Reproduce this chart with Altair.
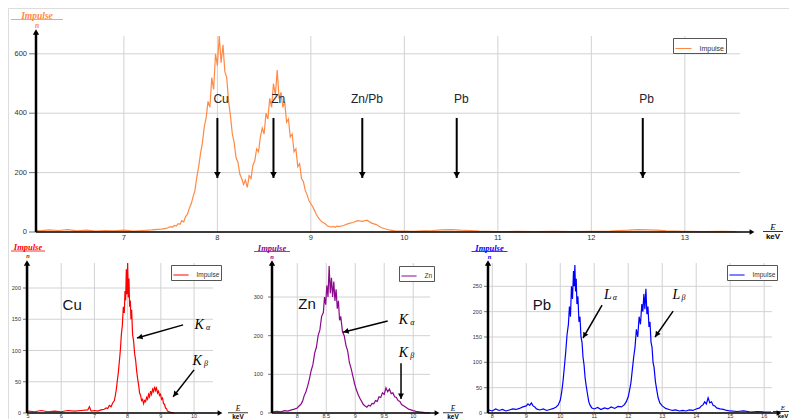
import math
import altair as alt
import pandas as pd

# ---------------- data ----------------
top_e = [6.06, 6.1, 6.2, 6.3, 6.4, 6.5, 6.6, 6.7, 6.8, 6.9, 7.0, 7.1, 7.2, 7.3, 7.4, 7.45, 7.5,
         7.52, 7.54, 7.56, 7.58, 7.60, 7.62, 7.64, 7.66, 7.68, 7.70,
         7.72, 7.74, 7.76, 7.78, 7.80, 7.82, 7.84, 7.86, 7.88, 7.90,
         7.92, 7.94, 7.96, 7.98, 8.00, 8.02, 8.04, 8.06, 8.08, 8.10,
         8.12, 8.14, 8.16, 8.18, 8.20, 8.22, 8.24, 8.26, 8.28, 8.30,
         8.32, 8.34, 8.36, 8.38, 8.40, 8.42, 8.44, 8.46, 8.48, 8.50,
         8.52, 8.54, 8.56, 8.58, 8.60, 8.62, 8.64, 8.66, 8.68, 8.70,
         8.72, 8.74, 8.76, 8.78, 8.80, 8.82, 8.84, 8.86, 8.88, 8.90,
         8.92, 8.94, 8.96, 8.98, 9.00, 9.02, 9.04, 9.06, 9.08, 9.10,
         9.12, 9.14, 9.16, 9.18, 9.20, 9.22, 9.24, 9.26, 9.28, 9.30,
         9.35, 9.40, 9.45, 9.50, 9.55, 9.60, 9.65, 9.70, 9.75, 9.80, 9.85, 9.90,
         10.0, 10.1, 10.2, 10.3, 10.4, 10.5, 10.6, 10.7, 10.8, 10.9, 11.0,
         11.2, 11.4, 11.6, 11.8, 12.0, 12.2, 12.3, 12.4, 12.5, 12.6, 12.7, 12.8, 12.9,
         13.0, 13.2, 13.4, 13.55]
top_n = [6, 4, 7, 5, 8, 4, 6, 3, 5, 4, 6, 3, 5, 7, 10, 12, 18,
         16, 22, 20, 28, 26, 38, 34, 52, 60, 80,
         95, 118, 140, 185, 220, 265, 300, 355, 385, 440,
         420, 520, 480, 600, 560, 660, 570, 630, 540, 520,
         440, 390, 330, 300, 250, 235, 195, 180, 160, 175,
         150, 190, 180, 225, 240, 280, 270, 320, 350, 330,
         400, 380, 450, 420, 500, 460, 545, 450, 470, 420,
         440, 370, 380, 320, 330, 270, 280, 220, 230, 180,
         170, 140, 125, 105, 95, 85, 72, 58, 48, 40,
         34, 30, 26, 20, 18, 17, 19, 16, 20, 18,
         22, 28, 32, 38, 36, 40, 30, 25, 15, 10, 6, 4,
         3, 2, 4, 5, 7, 8, 6, 5, 3, 2, 1,
         2, 1, 2, 1, 2, 3, 5, 6, 8, 7, 6, 4, 3,
         2, 1, 2, 1]

cu_e = [5.0, 5.2, 5.4, 5.6, 5.8, 6.0, 6.2, 6.4, 6.6, 6.8, 6.85, 6.9, 7.0, 7.1, 7.2, 7.3, 7.35,
        7.40, 7.45, 7.50, 7.55, 7.60, 7.63, 7.66, 7.69, 7.72, 7.75, 7.78, 7.81, 7.84, 7.87,
        7.90, 7.92, 7.94, 7.96, 7.98, 8.00, 8.02, 8.04, 8.06, 8.08, 8.10, 8.12, 8.15, 8.18,
        8.21, 8.24, 8.27, 8.30, 8.33, 8.36, 8.39, 8.42, 8.45, 8.48, 8.51, 8.54, 8.57, 8.60,
        8.63, 8.66, 8.69, 8.72, 8.75, 8.78, 8.81, 8.84, 8.87, 8.90, 8.93, 8.96, 8.99, 9.02,
        9.05, 9.08, 9.11, 9.14, 9.17, 9.20, 9.25, 9.30, 9.40]
cu_n = [3, 2, 4, 2, 3, 2, 4, 3, 4, 5, 10, 3, 4, 3, 5, 6, 8,
        7, 12, 10, 16, 20, 28, 38, 52, 65, 82, 100, 125, 140, 170,
        160, 195, 180, 230, 190, 240, 185, 215, 170, 180, 150, 165, 125, 115,
        95, 85, 68, 55, 45, 32, 28, 20, 22, 15, 20, 18, 25, 22,
        30, 26, 35, 30, 38, 34, 42, 36, 40, 32, 35, 28, 30, 22,
        24, 15, 14, 8, 7, 3, 2, 1, 0]

zn_e = [7.58, 7.65, 7.72, 7.78, 7.84, 7.90, 7.95, 8.00, 8.03, 8.06, 8.09, 8.12, 8.15, 8.18,
        8.21, 8.24, 8.27, 8.30, 8.33, 8.36, 8.39, 8.42, 8.45, 8.47, 8.49, 8.51, 8.53, 8.55,
        8.57, 8.59, 8.61, 8.63, 8.65, 8.67, 8.69, 8.71, 8.73, 8.75, 8.78, 8.81, 8.84, 8.87,
        8.90, 8.93, 8.96, 8.99, 9.02, 9.05, 9.08, 9.11, 9.14, 9.17, 9.20, 9.23, 9.26, 9.29,
        9.32, 9.35, 9.38, 9.41, 9.44, 9.47, 9.50, 9.53, 9.56, 9.59, 9.62, 9.65, 9.68, 9.71,
        9.74, 9.77, 9.80, 9.84, 9.88, 9.92, 9.96, 10.0, 10.05, 10.1, 10.2, 10.29]
zn_n = [3, 4, 3, 6, 5, 8, 10, 13, 18, 22, 30, 45, 55, 70,
        88, 110, 125, 155, 170, 200, 215, 250, 260, 300, 280, 330, 300, 380,
        310, 350, 300, 340, 290, 320, 270, 290, 240, 250, 210, 200, 175, 160,
        130, 115, 95, 75, 60, 48, 38, 30, 22, 18, 15, 20, 18, 25,
        24, 32, 30, 42, 40, 52, 48, 65, 55, 62, 50, 52, 42, 40,
        32, 30, 22, 18, 14, 10, 8, 6, 4, 3, 1, 0]

pb_e = [7.9, 8.0, 8.1, 8.2, 8.3, 8.4, 8.5, 8.6, 8.7, 8.8, 8.9, 9.0, 9.05, 9.1, 9.15, 9.2,
        9.25, 9.3, 9.4, 9.5, 9.6, 9.7, 9.8, 9.88, 9.94, 10.0, 10.04, 10.08, 10.12, 10.16,
        10.20, 10.24, 10.27, 10.30, 10.33, 10.36, 10.39, 10.41, 10.43, 10.45, 10.47, 10.49,
        10.52, 10.55, 10.58, 10.61, 10.64, 10.67, 10.70, 10.73, 10.76, 10.80, 10.84, 10.88,
        10.93, 11.0, 11.1, 11.2, 11.3, 11.4, 11.5, 11.6, 11.7, 11.8, 11.88, 11.94, 12.0,
        12.04, 12.08, 12.12, 12.16, 12.20, 12.24, 12.28, 12.32, 12.36, 12.40, 12.43, 12.46,
        12.49, 12.52, 12.55, 12.58, 12.61, 12.64, 12.67, 12.70, 12.73, 12.76, 12.80, 12.84,
        12.88, 12.93, 13.0, 13.1, 13.2, 13.3, 13.4, 13.5, 13.6, 13.7, 13.8, 13.9, 14.0,
        14.1, 14.15, 14.2, 14.25, 14.3, 14.35, 14.4, 14.45, 14.5, 14.55, 14.6, 14.7, 14.8,
        14.9, 15.0, 15.2, 15.4, 15.6, 15.8, 16.0, 16.2]
pb_n = [6, 4, 8, 5, 7, 4, 6, 8, 7, 9, 12, 14, 18, 15, 20, 14,
        12, 8, 6, 8, 5, 7, 9, 12, 16, 25, 40, 62, 90, 120,
        155, 175, 210, 190, 250, 225, 280, 250, 292, 240, 265, 215,
        230, 180, 190, 150, 140, 110, 95, 70, 55, 38, 22, 15,
        10, 8, 11, 7, 10, 8, 12, 9, 13, 12, 16, 22, 32,
        45, 60, 85, 110, 130, 165, 150, 190, 175, 215, 200, 235,
        205, 245, 195, 210, 170, 180, 140, 130, 100, 90, 62, 45,
        30, 20, 14, 9, 7, 5, 6, 4, 5, 4, 6, 5, 8,
        10, 14, 16, 22, 18, 30, 20, 22, 15, 14, 10, 8, 7,
        5, 4, 3, 4, 2, 3, 2, 2]

# axis ticks and their labels
top_xticks = [7, 8, 9, 10, 11, 12, 13]
top_xlabels = ["7", "8", "9", "10", "11", "12", "13"]
top_yticks = [0, 200, 400, 600]
top_ylabels = ["0", "200", "400", "600"]
cu_xticks = [5, 6, 7, 8, 9, 10]
cu_xlabels = ["5", "6", "7", "8", "9", "10"]
cu_yticks = [0, 50, 100, 150, 200]
cu_ylabels = ["0", "50", "100", "150", "200"]
zn_xticks = [8, 8.5, 9, 9.5, 10]
zn_xlabels = ["8", "8.5", "9", "9.5", "10"]
zn_yticks = [0, 100, 200, 300]
zn_ylabels = ["0", "100", "200", "300"]
pb_xticks = [8, 9, 10, 11, 12, 13, 14, 15, 16]
pb_xlabels = ["8", "9", "10", "11", "12", "13", "14", "15", "16"]
pb_yticks = [0, 50, 100, 150, 200, 250]
pb_ylabels = ["0", "50", "100", "150", "200", "250"]

# top annotations
top_labels = ["Cu", "Zn", "Zn/Pb", "Pb", "Pb"]
top_label_e = [8.04, 8.65, 9.60, 10.61, 12.59]
top_label_n = [448, 448, 448, 448, 448]
top_arrow_e = [8.0, 8.6, 9.55, 10.56, 12.55]
top_arrow_from = [384, 384, 384, 384, 384]
top_arrow_to = [182, 182, 182, 182, 182]

# bottom annotations
cu_name = ("Cu", 6.33, 173)
cu_lines = [("K", "α", 10.15, 141), ("K", "β", 10.09, 84)]
cu_arrows = [(9.67, 141, 8.28, 120), (10.0, 69, 9.37, 26)]
zn_name = ("Zn", 8.17, 282)
zn_lines = [("K", "α", 9.83, 240), ("K", "β", 9.83, 155)]
zn_arrows = [(9.56, 238, 8.79, 209), (9.79, 129, 9.79, 36)]
pb_name = ("Pb", 9.46, 213)
pb_lines = [("L", "α", 11.40, 233), ("L", "β", 13.42, 233)]
pb_arrows = [(11.23, 213, 10.67, 148), (13.32, 201, 12.79, 150)]

# ---------------- styling ----------------
SANS = "Liberation Sans"
SERIF = "Liberation Serif"
GRID = "#d2d2d2"
W, H = 781, 411


def build_panel(p):
    xdom, ydom, xr, yr = p["xdom"], p["ydom"], p["xr"], p["yr"]
    xs = alt.Scale(domain=xdom, range=xr, nice=False, zero=False)
    ys = alt.Scale(domain=ydom, range=yr, nice=False, zero=False)

    def X(f):
        return alt.X(f + ":Q", scale=xs, axis=None)

    def Y(f):
        return alt.Y(f + ":Q", scale=ys, axis=None)

    anchor = pd.DataFrame({"x0": [xdom[0]], "x1": [xdom[1]], "y0": [ydom[0]], "y1": [ydom[1]]})
    L = []
    # grid
    L.append(alt.Chart(pd.DataFrame({"t": p["xticks"], "lo": ydom[0], "hi": ydom[1]}))
             .mark_rule(color=GRID, strokeWidth=1).encode(x=X("t"), y=Y("lo"), y2="hi:Q"))
    L.append(alt.Chart(pd.DataFrame({"t": p["yticks"], "lo": xdom[0], "hi": xdom[1]}))
             .mark_rule(color=GRID, strokeWidth=1).encode(y=Y("t"), x=X("lo"), x2="hi:Q"))
    # tick labels
    L.append(alt.Chart(pd.DataFrame({"t": p["xticks"], "lab": p["xlabels"], "b": ydom[0]}))
             .mark_text(font=SANS, fontSize=p["fs"], color="#333", baseline="middle",
                        dy=p["xlab_dy"]).encode(x=X("t"), y=Y("b"), text="lab:N"))
    L.append(alt.Chart(pd.DataFrame({"t": p["yticks"], "lab": p["ylabels"], "b": xdom[0]}))
             .mark_text(font=SANS, fontSize=p["fs"], color="#333", baseline="middle", align="right",
                        dx=p["ylab_dx"]).encode(x=X("b"), y=Y("t"), text="lab:N"))
    L.append(alt.Chart(pd.DataFrame({"t": p["yticks"], "b": xdom[0]}))
             .mark_rule(color="#777", strokeWidth=1, xOffset=-p["tick"])
             .encode(x=X("b"), x2="b:Q", y=Y("t")))
    # spectrum line with legend
    df = pd.DataFrame({"E": p["e"], "n": p["n"], "s": [p["legend"]] * len(p["e"])})
    L.append(alt.Chart(df).mark_line(strokeWidth=1.2).encode(
        x=X("E"), y=Y("n"),
        color=alt.Color("s:N", scale=alt.Scale(range=[p["color"]]),
                        legend=alt.Legend(orient="none", legendX=p["leg"][0], legendY=p["leg"][1],
                                          title=None, symbolType="stroke", symbolSize=p["legsym"],
                                          symbolStrokeWidth=1, labelFontSize=p["legfs"],
                                          labelFont=SANS, labelColor="#333", strokeColor="#555",
                                          fillColor="white", padding=1.5, labelOffset=7,
                                          cornerRadius=0))))
    # axes with arrows
    L.append(alt.Chart(anchor).mark_rule(color="black", strokeWidth=2.5, y2Offset=-(p["yext"] - 3))
             .encode(x=X("x0"), y=Y("y0"), y2="y1:Q"))
    L.append(alt.Chart(anchor).mark_point(shape="triangle-up", filled=True, size=40, color="black",
                                          opacity=1, yOffset=-(p["yext"] - 3))
             .encode(x=X("x0"), y=Y("y1")))
    L.append(alt.Chart(anchor).mark_rule(color="black", strokeWidth=1.5, x2Offset=p["xext"] - 3)
             .encode(x=X("x0"), x2="x1:Q", y=Y("y0")))
    L.append(alt.Chart(anchor).mark_point(shape="triangle-right", filled=True, size=30, color="black",
                                          opacity=1, xOffset=p["xext"] - 3)
             .encode(x=X("x1"), y=Y("y0")))
    # y title  Impulse / n
    tdx, tdy, tfs, thw, ndy = p["title"]
    c = p["color"]
    L.append(alt.Chart(anchor).mark_text(text="Impulse", font=SERIF, fontStyle="italic",
                                         fontWeight="bold", fontSize=tfs, color=c, baseline="middle",
                                         dx=tdx, dy=tdy).encode(x=X("x0"), y=Y("y1")))
    L.append(alt.Chart(anchor).mark_rule(color=c, strokeWidth=0.8, xOffset=tdx - thw,
                                         x2Offset=tdx + thw, yOffset=tdy + 4)
             .encode(x=X("x0"), x2="x0:Q", y=Y("y1")))
    L.append(alt.Chart(anchor).mark_text(text="n", font=SERIF, fontStyle="italic", fontWeight="bold",
                                         fontSize=tfs - 2, color=c, baseline="middle",
                                         dx=tdx, dy=ndy).encode(x=X("x0"), y=Y("y1")))
    # x title  E / keV
    edx, edy, efs = p["ekev"]
    L.append(alt.Chart(anchor).mark_text(text="E", font=SERIF, fontStyle="italic", fontSize=efs + 1,
                                         color="black", baseline="middle", dx=edx, dy=edy)
             .encode(x=X("x1"), y=Y("y0")))
    L.append(alt.Chart(anchor).mark_rule(color="black", strokeWidth=0.8, xOffset=edx - 10,
                                         x2Offset=edx + 10, yOffset=edy + efs / 2 + 0.5)
             .encode(x=X("x1"), x2="x1:Q", y=Y("y0")))
    L.append(alt.Chart(anchor).mark_text(text="keV", font=SANS, fontWeight="bold", fontSize=efs,
                                         color="black", baseline="middle", dx=edx,
                                         dy=edy + efs + 1.5)
             .encode(x=X("x1"), y=Y("y0")))
    # arrows
    sx = (xr[1] - xr[0]) / (xdom[1] - xdom[0])
    sy = (yr[0] - yr[1]) / (ydom[1] - ydom[0])
    rows = []
    for (x1, y1, x2, y2) in p["arrows"]:
        dxp = (x2 - x1) * sx
        dyp = -(y2 - y1) * sy
        ln = math.hypot(dxp, dyp)
        ux, uy = dxp / ln, dyp / ln
        ang = math.degrees(math.atan2(ux, -uy)) % 360
        back = 3.0
        rows.append({"x1": x1, "y1": y1, "x2": x2, "y2": y2,
                     "hx": x2 - ux * back / sx, "hy": y2 + uy * back / sy, "ang": ang})
    adf = pd.DataFrame(rows)
    L.append(alt.Chart(adf).mark_rule(color="black", strokeWidth=p["aw"])
             .encode(x=X("x1"), y=Y("y1"), x2="x2:Q", y2="y2:Q"))
    L.append(alt.Chart(adf).mark_point(shape="triangle-up", filled=True, size=p["ah"], color="black",
                                       opacity=1)
             .encode(x=X("hx"), y=Y("hy"), angle=alt.Angle("ang:Q", scale=None)))
    return L, X, Y


# ---- top panel ----
top_p = dict(e=top_e, n=top_n, color="#ff8a45", legend="Impulse",
             xdom=[6.06, 13.59], ydom=[0, 660], xr=[28, 732], yr=[224, 28],
             xticks=top_xticks, xlabels=top_xlabels, yticks=top_yticks, ylabels=top_ylabels,
             fs=7.5, xlab_dy=6, ylab_dx=-9, tick=7, leg=(665, 30), legsym=260, legfs=7,
             yext=7, xext=15, title=(1, -20.5, 9.5, 26, -10.5), ekev=(33, -5, 8),
             arrows=[(a, f, a, t) for a, f, t in zip(top_arrow_e, top_arrow_from, top_arrow_to)],
             aw=2, ah=45)
top_layers, TX, TY = build_panel(top_p)
top_layers.append(alt.Chart(pd.DataFrame({"t": top_labels, "x": top_label_e, "y": top_label_n}))
                  .mark_text(font=SANS, fontSize=12, color="#22222e", baseline="middle")
                  .encode(x=TX("x"), y=TY("y"), text="t:N"))


def bottom(e, n, color, legend, xdom, ydom, xr, xticks, xlabels, yticks, ylabels, leg, title, ekev,
           ylab_dx, name, lines, arrows, subdx):
    p = dict(e=e, n=n, color=color, legend=legend, xdom=xdom, ydom=ydom, xr=xr, yr=[405, 255],
             xticks=xticks, xlabels=xlabels, yticks=yticks, ylabels=ylabels, fs=5.5, xlab_dy=2.5,
             ylab_dx=ylab_dx, tick=4, leg=leg, legsym=230, legfs=6.5, yext=3, xext=10,
             title=title, ekev=ekev, arrows=arrows, aw=1.5, ah=35)
    L, X, Y = build_panel(p)
    L.append(alt.Chart(pd.DataFrame({"t": [name[0]], "x": [name[1]], "y": [name[2]]}))
             .mark_text(font=SANS, fontSize=15, color="#111122", baseline="middle")
             .encode(x=X("x"), y=Y("y"), text="t:N"))
    ldf = pd.DataFrame({"t": [l[0] for l in lines], "s": [l[1] for l in lines],
                        "x": [l[2] for l in lines], "y": [l[3] for l in lines]})
    L.append(alt.Chart(ldf).mark_text(font=SERIF, fontStyle="italic", fontSize=14, color="black",
                                      baseline="middle")
             .encode(x=X("x"), y=Y("y"), text="t:N"))
    L.append(alt.Chart(ldf).mark_text(font=SERIF, fontStyle="italic", fontSize=8, color="black",
                                      baseline="middle", dx=subdx, dy=3)
             .encode(x=X("x"), y=Y("y"), text="s:N"))
    return L


cu_layers = bottom(cu_e, cu_n, "#ff0000", "Impulse", [4.97, 10.57], [0, 240], [19, 205],
                   cu_xticks, cu_xlabels, cu_yticks, cu_ylabels, (163, 257),
                   (1, -16, 8.5, 17, -7.5), (25, -4, 6.5), -6, cu_name, cu_lines, cu_arrows, 9)
zn_layers = bottom(zn_e, zn_n, "#8b0a8b", "Zn", [7.564, 10.29], [0, 388], [264, 422],
                   zn_xticks, zn_xlabels, zn_yticks, zn_ylabels, (391, 258),
                   (0, -15.5, 8.5, 18, -6.5), (23, -4, 6.5), -9, zn_name, zn_lines, zn_arrows, 9)
pb_layers = bottom(pb_e, pb_n, "#0000ff", "Impulse", [7.874, 16.23], [0, 296], [480, 764],
                   pb_xticks, pb_xlabels, pb_yticks, pb_ylabels, (719, 257),
                   (1.5, -15.5, 8.5, 18, -6.5), (11, -5, 6), -6, pb_name, pb_lines, pb_arrows, 7)

chart = alt.layer(*top_layers, *cu_layers, *zn_layers, *pb_layers).resolve_scale(
    x="independent", y="independent", color="independent"
).properties(
    width=W, height=H, padding=0, autosize=alt.AutoSizeParams(type="none")
).configure_view(stroke=None).configure(background="white")

chart.save("out.html", embed_options={"renderer": "svg", "actions": False})
